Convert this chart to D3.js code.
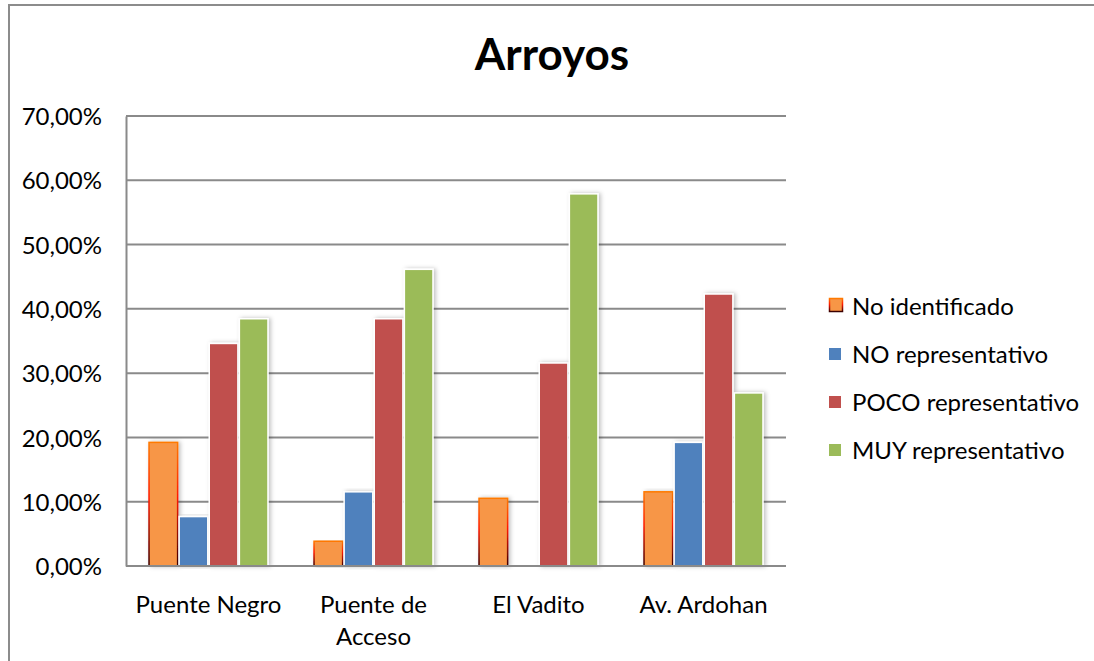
<!DOCTYPE html>
<html>
<head>
<meta charset="utf-8">
<script src="https://cdn.jsdelivr.net/npm/d3@7"></script>
<style>
  body { margin: 0; background: #fff; }
  text { font-family: Lato, "Open Sans", sans-serif; fill: #000; }
</style>
</head>
<body>
<svg id="chart"></svg>
<script>
var categories = [["Puente Negro"], ["Puente de", "Acceso"], ["El Vadito"], ["Av. Ardohan"]];
var seriesNames = ["No identificado", "NO representativo", "POCO representativo", "MUY representativo"];
var seriesColors = ["#F79646", "#4F81BD", "#C0504D", "#9BBB59"];
// percentage per category, one array per series
var noIdentificado = [19.23, 3.85, 10.53, 11.54];
var noRepresentativo = [7.69, 11.54, 0, 19.23];
var pocoRepresentativo = [34.62, 38.46, 31.58, 42.31];
var muyRepresentativo = [38.46, 46.15, 57.89, 26.92];
var yTicks = [0, 10, 20, 30, 40, 50, 60, 70];

var width = 1094, height = 661;
var margin = {top: 116, right: 308, bottom: 95, left: 126};

var svg = d3.select("#chart").attr("width", width).attr("height", height);

var defs = svg.append("defs");
var grad = defs.append("linearGradient")
    .attr("id", "orangeEdge")
    .attr("x1", 0).attr("y1", 0).attr("x2", 0).attr("y2", 1);
grad.append("stop").attr("offset", "0%").attr("stop-color", "#ff7a00");
grad.append("stop").attr("offset", "45%").attr("stop-color", "#ff1800");
grad.append("stop").attr("offset", "100%").attr("stop-color", "#3a0000");

var shadow = defs.append("filter").attr("id", "shadow")
    .attr("x", "-20%").attr("y", "-5%").attr("width", "150%").attr("height", "110%");
shadow.append("feDropShadow")
    .attr("dx", 2).attr("dy", 0).attr("stdDeviation", 2)
    .attr("flood-color", "#000").attr("flood-opacity", 0.25);

// outer chart frame (runs off right and bottom edge)
svg.append("rect")
    .attr("x", 9).attr("y", 5)
    .attr("width", width + 20).attr("height", height + 20)
    .attr("fill", "none").attr("stroke", "#8c8c8c").attr("stroke-width", 2);

svg.append("text")
    .attr("x", 552).attr("y", 70)
    .attr("text-anchor", "middle")
    .style("font-size", "44px").style("font-weight", "bold")
    .text("Arroyos");

var data = categories.map(function (c, i) {
    return {
        label: c,
        values: [noIdentificado[i], noRepresentativo[i], pocoRepresentativo[i], muyRepresentativo[i]]
    };
});

var x0 = d3.scaleBand()
    .domain(d3.range(categories.length))
    .range([margin.left, width - margin.right])
    .paddingInner(0.27)
    .paddingOuter(0.135);

var x1 = d3.scaleBand()
    .domain(d3.range(seriesNames.length))
    .range([0, x0.bandwidth()]);

var y = d3.scaleLinear()
    .domain([0, 70])
    .range([height - margin.bottom, margin.top]);

// gridlines
svg.append("g").selectAll("line")
    .data(yTicks.slice(1))
    .enter().append("line")
    .attr("x1", margin.left).attr("x2", width - margin.right)
    .attr("y1", function (d) { return y(d); })
    .attr("y2", function (d) { return y(d); })
    .attr("stroke", "#8a8a8a").attr("stroke-width", 2);

// y axis
var yAxis = d3.axisLeft(y)
    .tickValues(yTicks)
    .tickSize(0)
    .tickPadding(24)
    .tickFormat(function (d) { return d.toFixed(2).replace(".", ",") + "%"; });

var ya = svg.append("g")
    .attr("transform", "translate(" + margin.left + ",0)")
    .call(yAxis);
ya.select(".domain").attr("stroke", "#8a8a8a").attr("stroke-width", 2);
ya.selectAll("text")
    .style("font-size", "24px")
    .attr("font-family", null)
    .attr("dy", "0.36em");

// bars
var groups = svg.append("g").selectAll("g")
    .data(data)
    .enter().append("g")
    .attr("transform", function (d, i) { return "translate(" + x0(i) + ",0)"; });

groups.selectAll("rect")
    .data(function (d) {
        return d.values
            .map(function (v, j) { return {v: v, j: j}; })
            .filter(function (e) { return e.v > 0; });
    })
    .enter().append("rect")
    .attr("x", function (e) { return x1(e.j) + 0.75; })
    .attr("width", x1.bandwidth() - 1.5)
    .attr("y", function (e) { return y(e.v); })
    .attr("height", function (e) { return y(0) - y(e.v); })
    .attr("fill", function (e) { return seriesColors[e.j]; })
    .attr("stroke", function (e) { return e.j === 0 ? "url(#orangeEdge)" : "#fff"; })
    .attr("stroke-width", 1.5)
    .attr("filter", "url(#shadow)");

// x axis baseline
svg.append("line")
    .attr("x1", margin.left).attr("x2", width - margin.right)
    .attr("y1", y(0)).attr("y2", y(0))
    .attr("stroke", "#8a8a8a").attr("stroke-width", 2);

// category labels
var catLabels = svg.append("g").selectAll("text")
    .data(data)
    .enter().append("text")
    .attr("x", function (d, i) { return x0(i) + x0.bandwidth() / 2; })
    .attr("y", 613)
    .attr("text-anchor", "middle")
    .style("font-size", "24px");
catLabels.selectAll("tspan")
    .data(function (d) { return d.label; })
    .enter().append("tspan")
    .attr("x", function () { return d3.select(this.parentNode).attr("x"); })
    .attr("dy", function (d, k) { return k === 0 ? 0 : 32; })
    .text(function (d) { return d; });

// legend
var legend = svg.append("g").selectAll("g")
    .data(seriesNames)
    .enter().append("g")
    .attr("transform", function (d, i) { return "translate(829," + (306 + i * 48) + ")"; });

legend.append("rect")
    .attr("x", function (d, i) { return i === 0 ? 0.5 : 0; })
    .attr("y", function (d, i) { return i === 0 ? -7.5 : -6; })
    .attr("width", function (d, i) { return i === 0 ? 13 : 12; })
    .attr("height", function (d, i) { return i === 0 ? 13 : 12; })
    .attr("fill", function (d, i) { return seriesColors[i]; })
    .attr("stroke", function (d, i) { return i === 0 ? "url(#orangeEdge)" : "none"; })
    .attr("stroke-width", 1.5);

legend.append("text")
    .attr("x", 23)
    .attr("dy", "0.36em")
    .style("font-size", "24px")
    .text(function (d) { return d; });
</script>
</body>
</html>
